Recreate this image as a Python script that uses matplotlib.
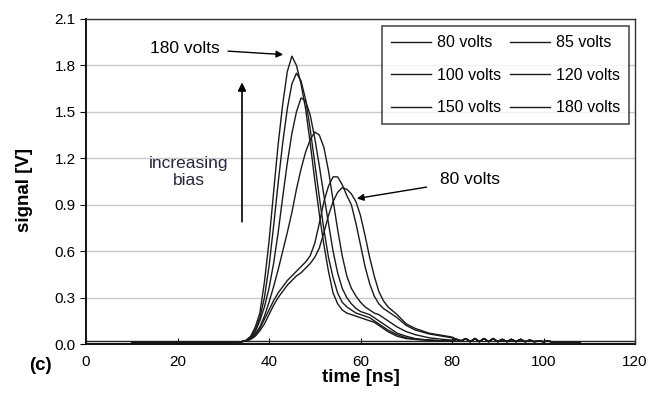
import matplotlib
matplotlib.use("Agg")
import matplotlib.pyplot as plt
import numpy as np

plt.rcParams['font.family'] = ['Liberation Sans', 'DejaVu Sans']

# time grid (ns) for the pulse part, shared by all bias curves
time_ns = [10, 20, 30, 33, 34,
           35, 36, 37, 38, 39, 40, 41, 42, 43, 44, 45, 46, 47, 48, 49, 50,
           51, 52, 53, 54, 55, 56, 57, 58, 59, 60, 61, 62, 63, 64, 65, 66,
           68, 70, 72, 75, 78, 80]

# ringing tail after 80 ns (same for every curve)
tail_ns = list(range(81, 109))
tail_v = [0.03, 0.02, 0.035, 0.015, 0.035, 0.015, 0.035, 0.015, 0.035, 0.015,
          0.03, 0.015, 0.03, 0.015, 0.03, 0.015, 0.025, 0.015, 0.02, 0.015,
          0.02, 0.012, 0.015, 0.012, 0.015, 0.012, 0.012, 0.01]

v180 = [0.01, 0.01, 0.01, 0.012, 0.015,
        0.025, 0.05, 0.11, 0.2, 0.4, 0.66, 0.98, 1.29, 1.55, 1.76, 1.86, 1.8,
        1.68, 1.52, 1.3, 1.06, 0.84, 0.64, 0.47, 0.33, 0.26, 0.22, 0.2, 0.19,
        0.18, 0.17, 0.16, 0.15, 0.14, 0.12, 0.1, 0.08,
        0.05, 0.035, 0.03, 0.025, 0.02, 0.02]
v150 = [0.01, 0.01, 0.01, 0.012, 0.015,
        0.022, 0.045, 0.09, 0.17, 0.3, 0.5, 0.76, 1.04, 1.3, 1.52, 1.68, 1.75,
        1.7, 1.58, 1.39, 1.17, 0.95, 0.74, 0.56, 0.43, 0.33, 0.27, 0.24, 0.22,
        0.2, 0.19, 0.18, 0.17, 0.15, 0.13, 0.11, 0.09,
        0.06, 0.04, 0.03, 0.025, 0.02, 0.02]
v120 = [0.01, 0.01, 0.01, 0.012, 0.015,
        0.02, 0.04, 0.08, 0.15, 0.24, 0.36, 0.52, 0.72, 0.95, 1.17, 1.36, 1.5,
        1.59, 1.57, 1.48, 1.33, 1.15, 0.96, 0.78, 0.6, 0.46, 0.36, 0.3, 0.26,
        0.23, 0.21, 0.2, 0.19, 0.17, 0.15, 0.13, 0.11,
        0.07, 0.05, 0.035, 0.025, 0.02, 0.02]
v100 = [0.01, 0.01, 0.01, 0.012, 0.015,
        0.02, 0.035, 0.065, 0.11, 0.18, 0.27, 0.37, 0.48, 0.6, 0.72, 0.85, 1.0,
        1.13, 1.24, 1.32, 1.37, 1.35, 1.27, 1.12, 0.93, 0.74, 0.57, 0.44, 0.36,
        0.31, 0.27, 0.24, 0.22, 0.2, 0.19, 0.17, 0.15,
        0.11, 0.08, 0.06, 0.04, 0.03, 0.025]
v85 = [0.01, 0.01, 0.01, 0.012, 0.015,
       0.02, 0.035, 0.06, 0.1, 0.16, 0.22, 0.28, 0.33, 0.37, 0.41, 0.44, 0.47,
       0.5, 0.53, 0.57, 0.65, 0.78, 0.92, 1.02, 1.08, 1.08, 1.03, 0.96, 0.9,
       0.78, 0.64, 0.5, 0.39, 0.31, 0.26, 0.23, 0.21,
       0.17, 0.12, 0.09, 0.065, 0.05, 0.04]
v80 = [0.01, 0.01, 0.01, 0.012, 0.015,
       0.02, 0.03, 0.05, 0.085, 0.13, 0.19, 0.25, 0.3, 0.34, 0.38, 0.41, 0.44,
       0.46, 0.49, 0.52, 0.56, 0.62, 0.72, 0.83, 0.92, 0.98, 1.01, 1.0, 0.97,
       0.92, 0.83, 0.7, 0.56, 0.44, 0.34, 0.28, 0.24,
       0.19, 0.13, 0.1, 0.07, 0.055, 0.045]

series = {
    "80 volts": v80,
    "100 volts": v100,
    "150 volts": v150,
    "85 volts": v85,
    "120 volts": v120,
    "180 volts": v180,
}

fig = plt.figure(figsize=(6.53, 3.95), dpi=100)
ax = fig.add_axes([86 / 653, 51 / 395, 549 / 653, 325 / 395])

t_all = time_ns + tail_ns
for name, vals in series.items():
    ax.plot(t_all, vals + tail_v, color="#1a1a1a", lw=1.0, label=name)

ax.set_xlim(0, 120)
ax.set_ylim(0, 2.1)
ax.set_xticks(np.arange(0, 121, 20))
ax.set_yticks(np.arange(0, 2.11, 0.3))
ax.set_yticklabels([f"{v:.1f}" for v in np.arange(0, 2.11, 0.3)])
ax.yaxis.grid(True, color="#c8c8c8", lw=1.0)
ax.set_axisbelow(True)
ax.axhline(0.02, color="#222222", lw=1.0, zorder=1)
ax.tick_params(axis="x", direction="in", length=4, labelsize=11, pad=8)
ax.tick_params(axis="y", direction="out", length=4, labelsize=11)
for s in ["left", "bottom"]:
    ax.spines[s].set_linewidth(1.4)
    ax.spines[s].set_color("#111111")
for s in ["top", "right"]:
    ax.spines[s].set_linewidth(1.0)
    ax.spines[s].set_color("#333333")

ax.set_xlabel("time [ns]", fontsize=13.5, fontweight="bold", labelpad=0)
ax.set_ylabel("signal [V]", fontsize=13.5, fontweight="bold")
ax.yaxis.set_label_coords(-0.097, 0.474)
fig.text(40 / 653, 1 - 365 / 395, "(c)", fontsize=13.5, fontweight="bold",
         ha="center", va="center")

leg = ax.legend(ncol=2, loc="upper right", bbox_to_anchor=(0.989, 0.977),
                borderaxespad=0,
                fontsize=11.5, frameon=True, fancybox=False, edgecolor="#222222",
                handlelength=2.5, handletextpad=0.35, columnspacing=0.6,
                labelspacing=1.1, borderpad=0.55)
leg.get_frame().set_linewidth(1.2)

ax.annotate("180 volts", xy=(43.1, 1.87), xytext=(21.6, 1.91),
            fontsize=12.5, ha="center", va="center",
            arrowprops=dict(arrowstyle="-|>", color="black", lw=1.0,
                            mutation_scale=10, shrinkA=4, shrinkB=0))
ax.annotate("80 volts", xy=(59.2, 0.94), xytext=(84.0, 1.06),
            fontsize=12.5, ha="center", va="center",
            arrowprops=dict(arrowstyle="-|>", color="black", lw=1.0,
                            mutation_scale=10, shrinkA=8, shrinkB=0))
ax.annotate("", xy=(34.1, 1.69), xytext=(34.1, 0.79),
            arrowprops=dict(arrowstyle="-|>", color="black", lw=1.2,
                            mutation_scale=12, shrinkA=0, shrinkB=0))
ax.text(22.5, 1.11, "increasing\nbias", fontsize=12.5, ha="center",
        va="center", color="#2b2540", linespacing=1.2)

fig.savefig("out.png", dpi=100)
